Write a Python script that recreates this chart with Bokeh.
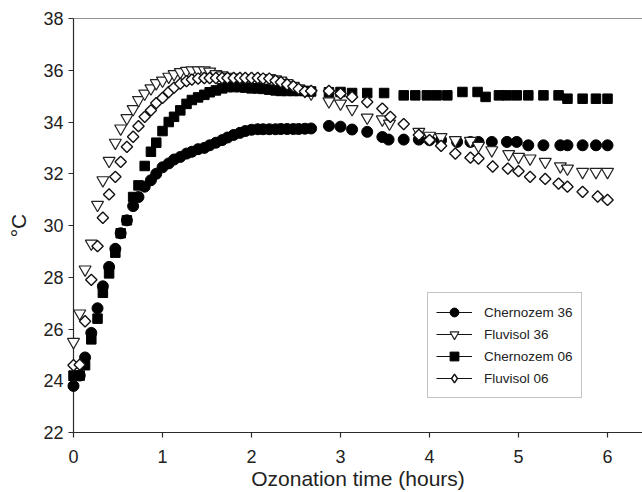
import numpy as np
from bokeh.plotting import figure
from bokeh.models import ColumnDataSource, Legend, LegendItem, Span, Range1d, FixedTicker
from bokeh.embed import file_html
from bokeh.resources import INLINE

# ---------------- data ----------------
t_early = [0, 0.07, 0.13, 0.2, 0.27, 0.33, 0.4, 0.47, 0.53, 0.6, 0.67, 0.73, 0.8, 0.87, 0.93,
           1.0, 1.07, 1.13, 1.2, 1.27, 1.33, 1.4, 1.47, 1.53, 1.6, 1.67, 1.73, 1.8, 1.87, 1.93,
           2.0, 2.07, 2.13, 2.2, 2.27, 2.33, 2.4, 2.47, 2.53, 2.6, 2.67]

t_ch36_late = [2.87, 3.0, 3.13, 3.3, 3.47, 3.54, 3.71, 3.88, 4.0, 4.13, 4.31, 4.46, 4.55, 4.7,
               4.87, 4.98, 5.11, 5.28, 5.47, 5.55, 5.72, 5.87, 6.0]
chernozem36 = [23.8, 24.2, 24.9, 25.85, 26.8, 27.65, 28.4, 29.1, 29.7, 30.2, 30.75, 31.1, 31.5,
               31.75, 32.0, 32.25, 32.4, 32.55, 32.65, 32.78, 32.85, 32.95, 33.0, 33.1, 33.2,
               33.3, 33.4, 33.5, 33.58, 33.65, 33.7, 33.72, 33.72, 33.72, 33.72, 33.73, 33.73,
               33.73, 33.73, 33.74, 33.75,
               33.85, 33.82, 33.71, 33.62, 33.42, 33.32, 33.32, 33.32, 33.3, 33.3, 33.23, 33.23,
               33.23, 33.23, 33.23, 33.23, 33.1, 33.1, 33.1, 33.1, 33.1, 33.1, 33.1]

t_fl36_late = [2.87, 3.0, 3.13, 3.3, 3.47, 3.55, 3.88, 4.0, 4.13, 4.29, 4.46, 4.55, 4.7, 4.89,
               5.0, 5.13, 5.3, 5.47, 5.55, 5.72, 5.87, 6.0]
fluvisol36 = [25.5, 26.6, 28.3, 29.3, 30.8, 31.75, 32.5, 33.2, 33.75, 34.15, 34.5, 34.85, 35.1,
              35.3, 35.5, 35.6, 35.75, 35.85, 35.93, 35.98, 36.0, 36.0, 36.0, 35.95, 35.85, 35.8,
              35.75, 35.72, 35.7, 35.7, 35.7, 35.7, 35.7, 35.7, 35.65, 35.6, 35.5, 35.4, 35.3,
              35.2, 35.1,
              34.8, 34.71, 34.5, 34.17, 34.1, 33.94, 33.62, 33.47, 33.42, 33.3, 33.27, 33.08,
              32.91, 32.76, 32.65, 32.59, 32.46, 32.29, 32.2, 32.07, 32.07, 32.07]

t_ch06_late = [2.87, 3.0, 3.13, 3.3, 3.49, 3.71, 3.84, 3.97, 4.08, 4.2, 4.37, 4.54, 4.63, 4.78,
               4.87, 4.98, 5.11, 5.28, 5.45, 5.55, 5.72, 5.87, 6.0]
chernozem06 = [24.2, 24.2, 24.6, 25.6, 26.4, 27.4, 28.15, 28.95, 29.7, 30.2, 31.1, 31.55, 32.3,
               32.85, 33.2, 33.65, 34.0, 34.2, 34.45, 34.7, 34.85, 34.95, 35.05, 35.15, 35.22,
               35.3, 35.35, 35.35, 35.35, 35.33, 35.3, 35.3, 35.28, 35.25, 35.22, 35.2, 35.2,
               35.2, 35.2, 35.2, 35.18,
               35.15, 35.16, 35.12, 35.12, 35.12, 35.03, 35.03, 35.03, 35.03, 35.03, 35.16, 35.16,
               34.97, 35.03, 35.03, 35.03, 35.03, 35.03, 35.03, 34.9, 34.9, 34.9, 34.9]

t_fl06_late = [2.87, 3.0, 3.13, 3.3, 3.47, 3.56, 3.71, 3.88, 4.0, 4.13, 4.29, 4.46, 4.55, 4.71,
               4.88, 5.0, 5.13, 5.3, 5.45, 5.55, 5.72, 5.89, 6.0]
fluvisol06 = [24.6, 24.62, 26.3, 27.9, 29.2, 30.3, 31.2, 31.88, 32.46, 33.04, 33.43, 33.84, 34.2,
              34.45, 34.73, 34.93, 35.16, 35.33, 35.48, 35.58, 35.64, 35.68, 35.7, 35.7, 35.7,
              35.7, 35.7, 35.7, 35.7, 35.7, 35.7, 35.7, 35.68, 35.68, 35.6, 35.54, 35.45, 35.38,
              35.28, 35.18, 35.2,
              35.2, 35.1, 34.97, 34.77, 34.52, 34.2, 33.92, 33.5, 33.3, 33.08, 32.78, 32.62,
              32.59, 32.28, 32.2, 32.1, 31.88, 31.8, 31.62, 31.5, 31.3, 31.12, 30.99]

series_names = ["Chernozem 36", "Fluvisol 36", "Chernozem 06", "Fluvisol 06"]
x_ticks = [0, 1, 2, 3, 4, 5, 6]
y_ticks = [22, 24, 26, 28, 30, 32, 34, 36, 38]

# ---------------- figure ----------------
FONT = "Liberation Sans"
AX = "#2b2b2b"

p = figure(width=642, height=492, output_backend="svg", toolbar_location=None,
           x_range=Range1d(0, 6.393), y_range=Range1d(22, 38),
           min_border_left=73, min_border_right=0, min_border_top=18, min_border_bottom=59)
p.outline_line_color = None
p.grid.visible = False
p.background_fill_color = "white"
p.border_fill_color = "white"

p.xaxis.ticker = FixedTicker(ticks=x_ticks)
p.yaxis.ticker = FixedTicker(ticks=y_ticks)
for ax in (p.xaxis[0], p.yaxis[0]):
    ax.axis_line_color = AX
    ax.axis_line_width = 1.2
    ax.major_tick_line_color = AX
    ax.major_tick_line_width = 1.2
    ax.major_tick_in = 0
    ax.major_tick_out = 5
    ax.minor_tick_line_color = None
    ax.major_label_text_font = FONT
    ax.major_label_text_font_size = "18px"
    ax.major_label_text_color = "#222222"
    ax.axis_label_text_font = FONT
    ax.axis_label_text_font_style = "normal"
    ax.axis_label_text_color = "#222222"

p.xaxis.axis_label = "Ozonation time (hours)"
p.xaxis.axis_label_text_font_size = "21px"
p.xaxis.major_label_standoff = 12
p.xaxis.axis_label_standoff = 1
p.yaxis.axis_label = "°C"
p.yaxis.axis_label_text_font_size = "21px"
p.yaxis.major_label_standoff = 5
p.yaxis.axis_label_standoff = 10

p.add_layout(Span(location=38, dimension="width", line_color=AX, line_width=1.2))

src1 = ColumnDataSource(dict(t=t_early + t_ch36_late, v=chernozem36))
src2 = ColumnDataSource(dict(t=t_early + t_fl36_late, v=fluvisol36))
src3 = ColumnDataSource(dict(t=t_early + t_ch06_late, v=chernozem06))
src4 = ColumnDataSource(dict(t=t_early + t_fl06_late, v=fluvisol06))

r1 = p.scatter("t", "v", source=src1, marker="circle", size=11,
               fill_color="black", line_color="black", level="overlay")
r2 = p.scatter("t", "v", source=src2, marker="inverted_triangle", size=12,
               fill_color="white", line_color="#222222", line_width=1.2, level="overlay")
r3 = p.scatter("t", "v", source=src3, marker="square", size=9.5,
               fill_color="black", line_color="black", level="overlay")
r4 = p.scatter("t", "v", source=src4, marker="square", size=8, angle=np.pi / 4,
               fill_color="white", line_color="#111111", line_width=1.4, level="overlay")

# legend-only glyphs (no data points are drawn in the plot area)
empty = dict(x=[np.nan], y=[np.nan])
lines = [p.line("x", "y", source=ColumnDataSource(empty), line_color="#111111", line_width=1.2)
         for _ in range(4)]
leg_diamond = p.scatter("x", "y", source=ColumnDataSource(empty), marker="diamond", size=15,
                        fill_color="white", line_color="#111111", line_width=1.4)
leg_marks = [r1, r2, r3, leg_diamond]

legend = Legend(items=[LegendItem(label=n, renderers=[l, r])
                       for n, l, r in zip(series_names, lines, leg_marks)],
                location=(354, 34))
legend.label_text_font = FONT
legend.label_text_font_size = "13.5px"
legend.label_text_color = "#222222"
legend.glyph_width = 36
legend.glyph_height = 22
legend.label_height = 22
legend.label_standoff = 12
legend.spacing = 0
legend.padding = 8
legend.margin = 0
legend.border_line_color = "#888888"
legend.border_line_width = 1.5
legend.background_fill_color = "white"
legend.background_fill_alpha = 1.0
p.add_layout(legend)

open("out.html", "w").write(file_html(p, INLINE))
